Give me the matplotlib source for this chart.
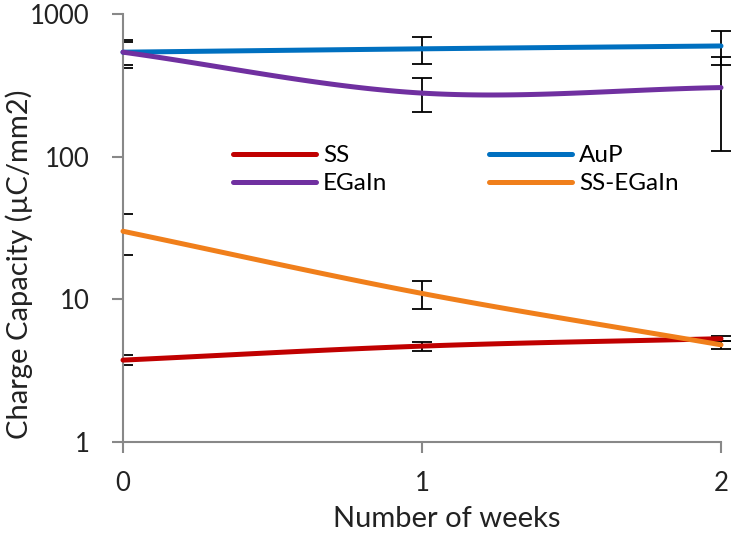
import numpy as np
import matplotlib
matplotlib.use("Agg")
import matplotlib.pyplot as plt
from matplotlib.transforms import Bbox, TransformedBbox

weeks = [0, 1, 2]
ss = [3.75, 4.7, 5.3]
ss_err = [0.3, 0.35, 0.2]
aup = [540, 570, 597]
aup_err = [120, 125, 160]
egain = [540, 279, 305]
egain_err = [100, 75, 195]
ss_egain = [30.0, 11.0, 4.8]
ss_egain_err = [9.5, 2.5, 0.3]

colors = {"SS": "#C00000", "AuP": "#0070C0", "EGaIn": "#7030A0", "SS-EGaIn": "#F07F1B"}

plt.rcParams['font.family'] = ['Lato', 'DejaVu Sans']


def smooth(x, y, n=60):
    # Catmull-Rom spline through points in (x, log10 y)
    x = np.asarray(x, float)
    ly = np.log10(np.asarray(y, float))
    px = np.concatenate([[2 * x[0] - x[1]], x, [2 * x[-1] - x[-2]]])
    py = np.concatenate([[2 * ly[0] - ly[1]], ly, [2 * ly[-1] - ly[-2]]])
    xs, ys = [], []
    for i in range(1, len(px) - 2):
        t = np.linspace(0, 1, n)
        for arr, out in ((px, xs), (py, ys)):
            p0, p1, p2, p3 = arr[i - 1], arr[i], arr[i + 1], arr[i + 2]
            out.append(0.5 * ((2 * p1) + (-p0 + p2) * t + (2 * p0 - 5 * p1 + 4 * p2 - p3) * t ** 2
                              + (-p0 + 3 * p1 - 3 * p2 + p3) * t ** 3))
    return np.concatenate(xs), 10 ** np.concatenate(ys)


W, H = 740, 536
fig = plt.figure(figsize=(W / 100, H / 100), dpi=100)
x0, x1, ytop, ybot = 123, 721, 14, 442
ax = fig.add_axes([x0 / W, 1 - ybot / H, (x1 - x0) / W, (ybot - ytop) / H])

clipbox = TransformedBbox(Bbox([[0, -0.1], [1.1, 1.1]]), ax.transAxes)

series = [("SS", ss, ss_err), ("AuP", aup, aup_err), ("EGaIn", egain, egain_err),
          ("SS-EGaIn", ss_egain, ss_egain_err)]
for name, vals, errs in series:
    cont = ax.errorbar(weeks, vals, yerr=errs, fmt='none', ecolor='black', elinewidth=1.3,
                       capsize=7, capthick=1.3, zorder=2)
    for art in cont.get_children():
        art.set_clip_on(True)
        art.set_clip_box(clipbox)
        art.set_clip_path(None)
handles = {}
for name, vals, errs in series:
    sx, sy = smooth(weeks, vals)
    handles[name], = ax.plot(sx, sy, color=colors[name], lw=3.6, label=name, zorder=3,
                             solid_capstyle='round', clip_on=False)

ax.set_yscale('log')
ax.set_ylim(1, 1000)
ax.set_xlim(0, 2)
ax.set_xticks([0, 1, 2])
ax.set_xticklabels(['0', '1', '2'])
ax.set_yticks([1, 10, 100, 1000])
ax.set_yticklabels(['1', '10', '100', '1000'])
ax.yaxis.set_minor_locator(matplotlib.ticker.NullLocator())

for s in ['top', 'right']:
    ax.spines[s].set_visible(False)
for s in ['left', 'bottom']:
    ax.spines[s].set_color('#888888')
    ax.spines[s].set_linewidth(1.5)
ax.tick_params(axis='both', which='major', direction='out', length=8, width=1.5,
               color='#888888', labelsize=18.5, labelcolor='#222222')
ax.tick_params(axis='x', pad=13)
ax.tick_params(axis='y', pad=16)

ax.set_xlabel('Number of weeks', fontsize=21, color='#222222')
ax.xaxis.set_label_coords((447 - x0) / (x1 - x0), (ybot - 506) / (ybot - ytop))
ax.set_ylabel('Charge Capacity (µC/mm2)', fontsize=21, color='#222222')
ax.yaxis.set_label_coords((33 - x0) / (x1 - x0), (ybot - 264) / (ybot - ytop))

order = ["SS", "EGaIn", "AuP", "SS-EGaIn"]
fig.legend([handles[k] for k in order], order, ncol=2, loc='upper left',
           bbox_to_anchor=(233 / W, 1 - 145 / H), frameon=False, borderpad=0,
           fontsize=17.5, handlelength=3.4, handletextpad=0.3, columnspacing=4.2,
           labelspacing=0.3, borderaxespad=0)

fig.savefig('out.png', dpi=100)
